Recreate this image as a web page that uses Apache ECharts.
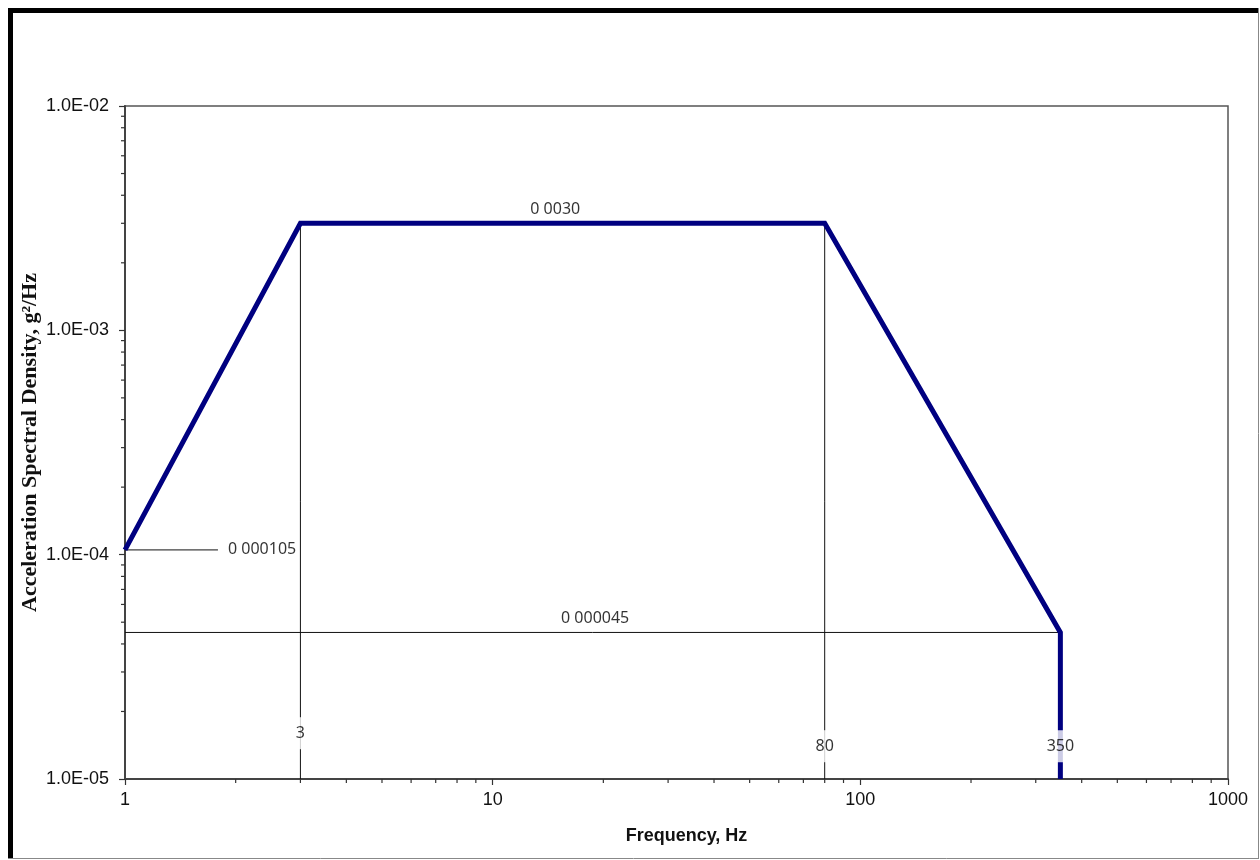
<!DOCTYPE html>
<html>
<head>
<meta charset="utf-8">
<script src="https://cdn.jsdelivr.net/npm/echarts@6/dist/echarts.min.js"></script>
<style>
  html, body { margin: 0; padding: 0; background: #fff; }
  #chart { width: 1260px; height: 860px; }
</style>
</head>
<body>
<div id="chart"></div>
<script>
// ASD profile breakpoints
var freq = [1, 3, 80, 350, 350];
var asd = [0.000105, 0.003, 0.003, 0.000045, 0.00001];

// axis range
var xMin = 1, xMax = 1000;
var yMin = 0.00001, yMax = 0.01;

// minor ticks (log)
var xMinor = [2, 3, 4, 5, 6, 7, 8, 9, 20, 30, 40, 50, 60, 70, 80, 90, 200, 300, 400, 500, 600, 700, 800, 900];
var yMinor = [2e-5, 3e-5, 4e-5, 5e-5, 6e-5, 7e-5, 8e-5, 9e-5,
              2e-4, 3e-4, 4e-4, 5e-4, 6e-4, 7e-4, 8e-4, 9e-4,
              2e-3, 3e-3, 4e-3, 5e-3, 6e-3, 7e-3, 8e-3, 9e-3];

// thin guide lines
var guideV = [3, 80];
var guideLow = [[1, 0.000045], [350, 0.000045]];
var guideLeader = [[1, 0.000105], [1.79, 0.000105]];

// annotation texts
var noteText = ['0 0030', '0 000105', '0 000045', '3', '80', '350'];
var noteX = [14.8, 1.79, 19, 3, 80, 350];
var noteY = [0.003, 0.000105, 0.000045, 1.6e-5, 1.4e-5, 1.4e-5];
var notePos = ['top', 'right', 'top', 'inside', 'inside', 'inside'];

var chart = echarts.init(document.getElementById('chart'));

var noteFont = '"Noto Sans", "Liberation Sans", sans-serif';

var notes = noteText.map(function (t, i) {
    var inside = notePos[i] === 'inside';
    return {
        value: [noteX[i], noteY[i]],
        label: {
            show: true,
            formatter: t,
            position: notePos[i],
            distance: notePos[i] === 'right' ? 10 : 6,
            color: '#000',
            fontSize: 16,
            fontFamily: noteFont,
            backgroundColor: inside ? '#fff' : 'transparent',
            padding: inside ? [8, 2] : 0
        }
    };
});

var series = [
    {
        name: 'lowline',
        type: 'line',
        data: guideLow,
        symbol: 'none',
        lineStyle: { color: '#111', width: 1 },
        z: 1
    },
    {
        name: 'leader',
        type: 'line',
        data: guideLeader,
        symbol: 'none',
        lineStyle: { color: '#111', width: 1 },
        z: 1
    }
];

guideV.forEach(function (f) {
    series.push({
        type: 'line',
        data: [[f, asd[1]], [f, yMin]],
        symbol: 'none',
        lineStyle: { color: '#111', width: 1 },
        z: 1
    });
});

series.push({
    name: 'ASD',
    type: 'line',
    data: freq.map(function (f, i) { return [f, asd[i]]; }),
    symbol: 'none',
    lineStyle: { color: '#000080', width: 5, join: 'miter' },
    z: 3
});

series.push({
    name: 'notes',
    type: 'scatter',
    symbolSize: 0,
    data: notes,
    z: 6,
    silent: true
});

// minor ticks drawn through the axis scales
series.push({
    type: 'custom',
    data: xMinor.map(function (v) { return [v, yMin]; }),
    renderItem: function (params, api) {
        var p = api.coord([api.value(0), api.value(1)]);
        return {
            type: 'line',
            shape: { x1: p[0], y1: p[1], x2: p[0], y2: p[1] + 4 },
            style: { stroke: '#333', lineWidth: 1.2 }
        };
    },
    z: 2,
    silent: true
});
series.push({
    type: 'custom',
    data: yMinor.map(function (v) { return [xMin, v]; }),
    renderItem: function (params, api) {
        var p = api.coord([api.value(0), api.value(1)]);
        return {
            type: 'line',
            shape: { x1: p[0] - 4, y1: p[1], x2: p[0], y2: p[1] },
            style: { stroke: '#333', lineWidth: 1.2 }
        };
    },
    z: 2,
    silent: true
});

var option = {
    animation: false,
    grid: {
        left: 125, top: 106, right: 32, bottom: 81,
        show: true,
        borderColor: '#555',
        borderWidth: 1.5
    },
    xAxis: {
        type: 'log',
        logBase: 10,
        min: xMin,
        max: xMax,
        name: 'Frequency, Hz',
        nameLocation: 'middle',
        nameGap: 48,
        nameTextStyle: {
            fontFamily: '"Liberation Sans", Arial, sans-serif',
            fontWeight: 'bold',
            fontSize: 18,
            color: '#111',
            padding: [0, 0, 0, 20]
        },
        axisLine: { lineStyle: { color: '#444', width: 2 } },
        axisTick: { length: 6, lineStyle: { color: '#333', width: 1.2 } },
        splitLine: { show: false },
        axisLabel: {
            margin: 12,
            fontSize: 18,
            color: '#111',
            fontFamily: '"Liberation Sans", Arial, sans-serif',
            formatter: function (v) { return String(Math.round(v)); }
        }
    },
    yAxis: {
        type: 'log',
        logBase: 10,
        min: yMin,
        max: yMax,
        name: 'Acceleration Spectral Density, g\u00B2/Hz',
        nameLocation: 'middle',
        nameGap: 84,
        nameMoveOverlap: false,
        nameTextStyle: {
            fontFamily: '"Liberation Serif", "Times New Roman", serif',
            fontWeight: 'bold',
            fontSize: 22,
            color: '#111'
        },
        axisLine: { show: true, lineStyle: { color: '#444', width: 2 } },
        axisTick: { show: true, length: 6, lineStyle: { color: '#333', width: 1.2 } },
        splitLine: { show: false },
        axisLabel: {
            margin: 16,
            fontSize: 18,
            color: '#111',
            fontFamily: '"Liberation Sans", Arial, sans-serif',
            formatter: function (v) {
                var e = Math.round(Math.log10(v));
                var s = Math.abs(e) < 10 ? '0' + Math.abs(e) : String(Math.abs(e));
                return '1.0E' + (e < 0 ? '-' : '+') + s;
            }
        }
    },
    graphic: [
        { type: 'line', shape: { x1: 8, y1: 10.5, x2: 1258, y2: 10.5 }, style: { stroke: '#000', lineWidth: 5 } },
        { type: 'line', shape: { x1: 10.5, y1: 8, x2: 10.5, y2: 859 }, style: { stroke: '#000', lineWidth: 5 } },
        { type: 'line', shape: { x1: 1258.5, y1: 8, x2: 1258.5, y2: 859 }, style: { stroke: '#888', lineWidth: 1 } },
        { type: 'line', shape: { x1: 8, y1: 858.5, x2: 1259, y2: 858.5 }, style: { stroke: '#888', lineWidth: 1 } }
    ],
    series: series
};

chart.setOption(option);
</script>
</body>
</html>
